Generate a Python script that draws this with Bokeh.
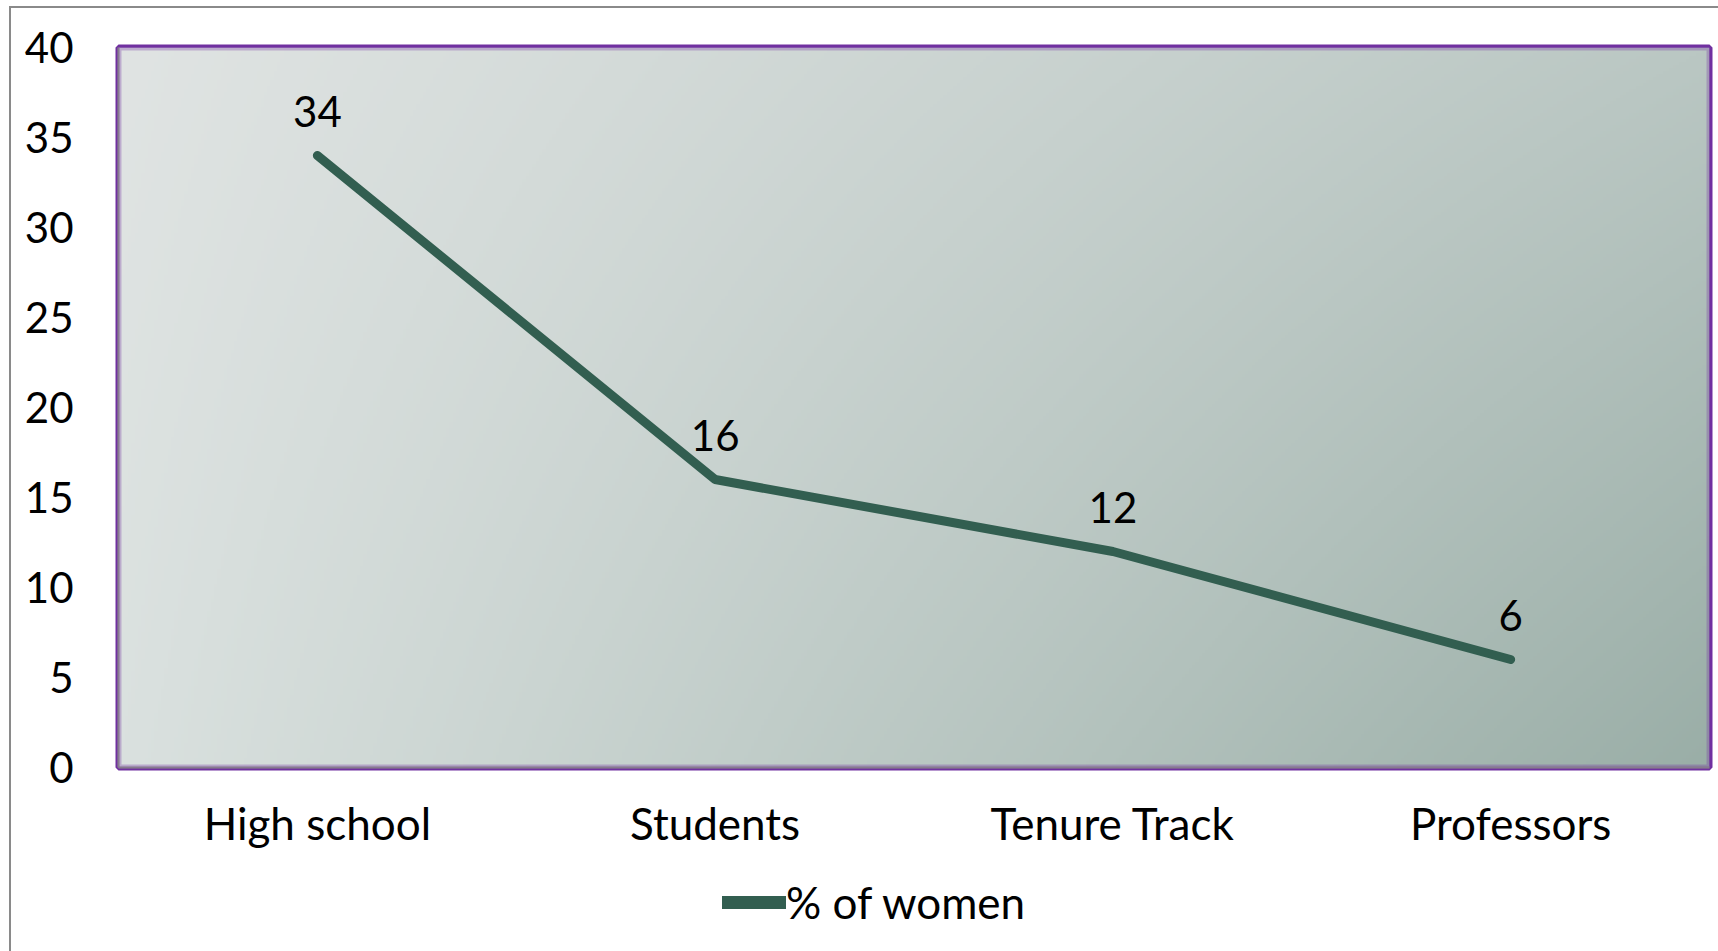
import numpy as np
from bokeh.plotting import figure
from bokeh.layouts import column
from bokeh.models import Range1d, FixedTicker, Legend, LegendItem, BoxAnnotation
from bokeh.core.properties import value
from bokeh.embed import file_html
from bokeh.resources import INLINE

categories = ["High school", "Students", "Tenure Track", "Professors"]
women_pct = [34, 16, 12, 6]
y_ticks = [0, 5, 10, 15, 20, 25, 30, 35, 40]
series_name = "% of women"

FONT = "Lato"
FS_NUM = "42px"
FS_TXT = "44px"
LINE_COLOR = "#325e50"
PURPLE = "#7030a0"
GRAY = "#8a8a8a"

xs = list(range(len(categories)))

p = figure(width=1707, height=862, output_backend="svg", toolbar_location=None,
           x_range=Range1d(-0.5, len(categories) - 0.5), y_range=Range1d(0, 40),
           min_border_left=107, min_border_top=39, min_border_right=9, min_border_bottom=103)

# gradient background (bilinear between corner colours)
tl = np.array([224, 228, 227]); tr = np.array([186, 199, 195])
bl = np.array([218, 225, 223]); br = np.array([154, 174, 167])
H, W = 240, 480
u = np.linspace(0, 1, W)[None, :, None]
v = np.linspace(0, 1, H)[:, None, None]  # v=0 bottom row
top = tl * (1 - u) + tr * u
bot = bl * (1 - u) + br * u
rgb = bot * (1 - v) + top * v
img = np.empty((H, W), dtype=np.uint32)
view = img.view(dtype=np.uint8).reshape((H, W, 4))
view[:, :, 0] = rgb[:, :, 0].astype(np.uint8)
view[:, :, 1] = rgb[:, :, 1].astype(np.uint8)
view[:, :, 2] = rgb[:, :, 2].astype(np.uint8)
view[:, :, 3] = 255
p.image_rgba(image=[img], x=-0.5, y=0, dw=len(categories), dh=40)

p.line(xs, women_pct, line_width=9, line_color=LINE_COLOR, line_cap="round", line_join="round")
p.text(x=xs, y=women_pct, text=[str(v_) for v_ in women_pct], y_offset=-44,
       text_align="center", text_baseline="alphabetic",
       text_font=value(FONT), text_font_size=FS_NUM, text_color="#000000")

p.grid.visible = False
p.outline_line_color = PURPLE
p.outline_line_width = 6
p.outline_line_alpha = 1.0
p.add_layout(BoxAnnotation(fill_alpha=0, line_color=PURPLE, line_width=6))

p.yaxis.ticker = FixedTicker(ticks=y_ticks)
p.xaxis.ticker = FixedTicker(ticks=xs)
p.xaxis.major_label_overrides = {i: c for i, c in enumerate(categories)}
for ax in (p.xaxis[0], p.yaxis[0]):
    ax.major_tick_line_color = None
    ax.minor_tick_line_color = None
    ax.axis_line_color = GRAY
    ax.axis_line_width = 2
    ax.major_label_text_font = FONT
    ax.major_label_text_color = "#000000"
p.yaxis.major_label_text_font_size = FS_NUM
p.xaxis.major_label_text_font_size = FS_TXT
p.yaxis.major_label_standoff = 39
p.xaxis.major_label_standoff = 23

# legend strip below the chart (helper renderer outside the visible range, only for the legend swatch)
p2 = figure(width=1707, height=81, output_backend="svg", toolbar_location=None,
            x_range=Range1d(0, 1), y_range=Range1d(0, 1), x_axis_type=None, y_axis_type=None,
            min_border=0, outline_line_color=None)
p2.grid.visible = False
r2 = p2.line(x=[-2, -1], y=[-2, -1], line_width=13, line_color=LINE_COLOR, line_cap="round")
legend = Legend(items=[LegendItem(label=series_name, renderers=[r2])], location=(604, 23),
                orientation="horizontal",
                label_text_font=FONT, label_text_font_size=FS_TXT, label_text_color="#000000",
                glyph_width=64, label_standoff=0, border_line_color=None,
                background_fill_alpha=0, margin=0, padding=8)
p2.add_layout(legend, "center")

layout = column(p, p2, spacing=0)
layout.styles = {"border-left": "2px solid " + GRAY, "border-top": "2px solid " + GRAY,
                 "margin-left": "9px", "margin-top": "6px"}

open("out.html", "w").write(file_html(layout, INLINE))
